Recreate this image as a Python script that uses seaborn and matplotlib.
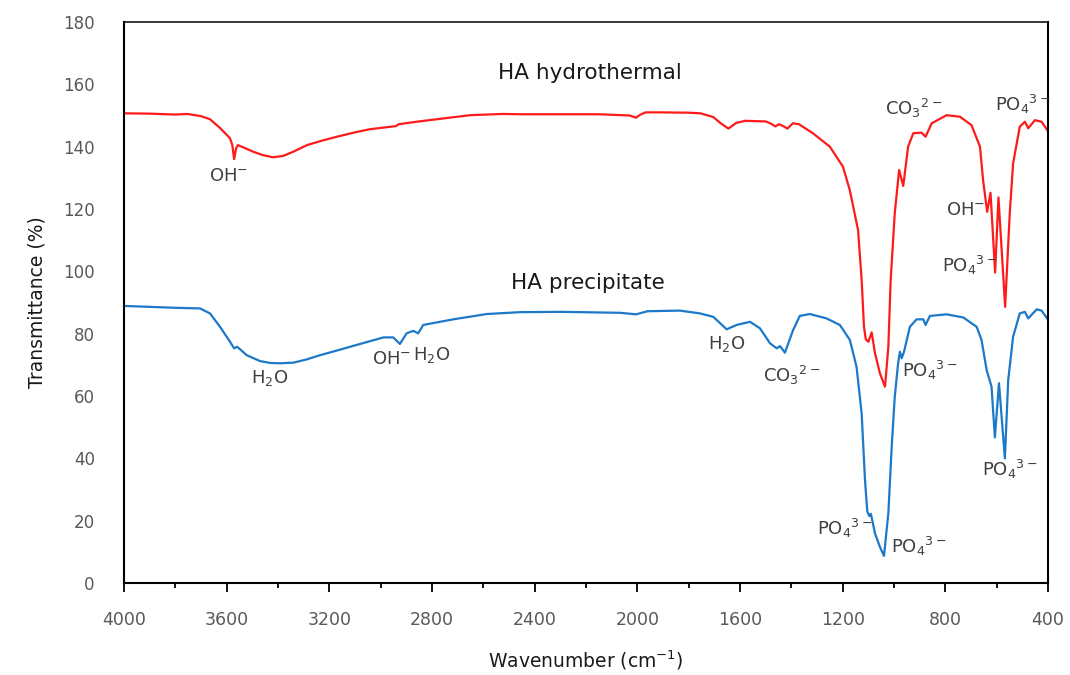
import numpy as np
import pandas as pd
import matplotlib
matplotlib.use("Agg")
import matplotlib.pyplot as plt
from matplotlib.ticker import MultipleLocator
import seaborn as sns

# ---------------- data ----------------
series_names = ["HA hydrothermal", "HA precipitate"]

hydro_wn = [4000, 3900, 3800, 3754, 3700, 3665, 3626, 3587, 3578, 3571, 3563, 3556,
            3530, 3497, 3460, 3420, 3381, 3340, 3287, 3230, 3170, 3100, 3042, 2940, 2930,
            2860, 2781, 2652, 2524, 2457,
            2300, 2150, 2030, 2005, 1990, 1968, 1900, 1800, 1754, 1704, 1675, 1645,
            1615, 1580, 1500, 1480, 1462, 1448, 1434, 1415, 1394, 1370, 1316, 1250,
            1199, 1172, 1140, 1126, 1117, 1110, 1100, 1087, 1074, 1055, 1035, 1022,
            1013, 997, 980, 964, 945, 925, 893, 877, 853, 795, 743, 698, 665, 653,
            637, 624, 606, 593, 567, 549, 536, 510, 490, 477, 451, 425, 400]
hydro_t = [150.7, 150.6, 150.3, 150.5, 149.8, 148.8, 146.0, 142.7, 140.5, 136.0, 139.5, 140.5,
           139.6, 138.4, 137.3, 136.6, 137.0, 138.4, 140.5, 141.9, 143.2, 144.6, 145.6, 146.6, 147.2,
           148.0, 148.8, 150.1, 150.5, 150.4,
           150.4, 150.4, 150.0, 149.3, 150.2, 151.0, 151.0, 150.9, 150.7, 149.5, 147.5, 145.8,
           147.6, 148.3, 148.1, 147.4, 146.5, 147.2, 146.7, 145.8, 147.5, 147.2, 144.3, 140.0,
           133.6, 126.0, 113.2, 97.2, 82.2, 78.2, 77.4, 80.4, 73.7, 67.3, 63.0, 75.8,
           97.2, 118.7, 132.5, 127.4, 140.0, 144.3, 144.5, 143.2, 147.5, 150.1, 149.6, 146.9, 140.0, 129.3,
           119.1, 125.2, 99.6, 123.7, 88.6, 118.6, 134.6, 146.4, 148.0, 145.9, 148.5, 148.0, 145.0]

precip_wn = [4000, 3900, 3800, 3704, 3665, 3626, 3587, 3571, 3559, 3522, 3470, 3430, 3392,
             3340, 3290, 3236, 3170, 3106, 2989, 2951, 2925, 2899, 2873, 2854, 2834, 2717, 2587,
             2457, 2300, 2068, 2005, 1960, 1834, 1756, 1704, 1652, 1613, 1561, 1522,
             1483, 1457, 1444, 1425, 1393, 1367, 1328, 1263, 1211, 1172, 1146, 1126,
             1113, 1104, 1096, 1090, 1074, 1055, 1039, 1022, 1009, 997, 984, 977, 970,
             961, 938, 912, 886, 877, 860, 795, 730, 678, 659, 639, 620, 607, 591,
             568, 555, 536, 510, 490, 477, 444, 425, 400]
precip_t = [88.9, 88.6, 88.3, 88.1, 86.5, 82.2, 77.4, 75.3, 75.8, 73.1, 71.2, 70.6, 70.5,
            70.7, 71.7, 73.1, 74.6, 76.1, 78.8, 78.8, 76.7, 80.1, 80.9, 80.1, 82.8, 84.6, 86.3,
            86.9, 87.0, 86.7, 86.2, 87.2, 87.4, 86.5, 85.4, 81.4, 82.8, 83.8, 81.7,
            76.9, 75.3, 76.0, 73.9, 81.2, 85.7, 86.3, 84.9, 82.8, 78.0, 69.4, 54.4,
            33.0, 22.9, 21.5, 22.2, 15.9, 11.6, 8.7, 22.4, 43.7, 59.8, 70.5, 74.2, 72.1,
            74.2, 82.2, 84.6, 84.6, 82.8, 85.7, 86.2, 85.2, 82.2, 78.0, 68.3, 63.0, 46.7, 64.1,
            40.0, 65.1, 79.0, 86.5, 87.0, 84.9, 87.8, 87.4, 84.5]

x_ticks = [4000, 3600, 3200, 2800, 2400, 2000, 1600, 1200, 800, 400]
y_ticks = [0, 20, 40, 60, 80, 100, 120, 140, 160, 180]

# band annotations: text, wavenumber, transmittance
ann_text = ["OH$^{-}$", "H$_2$O", "OH$^{-}$", "H$_2$O", "H$_2$O", "CO$_3$$^{2-}$",
            "PO$_4$$^{3-}$", "PO$_4$$^{3-}$", "PO$_4$$^{3-}$", "PO$_4$$^{3-}$",
            "CO$_3$$^{2-}$", "PO$_4$$^{3-}$", "OH$^{-}$", "PO$_4$$^{3-}$"]
ann_x = [3591, 3431, 2956, 2800, 1651, 1398, 860, 1191, 903, 548, 922, 498, 720, 704]
ann_y = [130.6, 65.8, 71.9, 73.1, 76.7, 66.7, 68.1, 17.6, 11.6, 36.3, 152.3, 153.7, 119.7, 102.0]

series_label_x = [2185, 2192]
series_label_y = [163.5, 96.2]

# ---------------- build table ----------------
df = pd.concat([
    pd.DataFrame({"wn": hydro_wn, "T": hydro_t, "sample": series_names[0]}),
    pd.DataFrame({"wn": precip_wn, "T": precip_t, "sample": series_names[1]}),
], ignore_index=True)

sns.set_theme(style="white")
plt.rcParams["font.family"] = ["DejaVu Sans"]
plt.rcParams["mathtext.fontset"] = "dejavusans"

fig = plt.figure(figsize=(10.7, 6.75), dpi=100)
ax = fig.add_axes([124 / 1070, 1 - 583 / 675, (1048 - 124) / 1070, (583 - 22) / 675])

palette = {series_names[0]: "#FF1A1A", series_names[1]: "#1C78C8"}
sns.lineplot(data=df, x="wn", y="T", hue="sample", palette=palette,
             estimator=None, linewidth=1.6, legend=False, ax=ax)

ax.set_xlim(4000, 400)
ax.set_ylim(0, 180)
ax.set_xticks(x_ticks)
ax.set_xticklabels([str(v) for v in x_ticks])
ax.xaxis.set_minor_locator(MultipleLocator(200))
ax.set_yticks(y_ticks)
ax.set_yticklabels([str(v) for v in y_ticks])

ax.tick_params(axis="x", which="major", direction="out", length=6.5, width=1.3,
               color="black", pad=14, labelsize=12.5, labelcolor="#595959", bottom=True)
ax.tick_params(axis="x", which="minor", direction="out", length=3.5, width=1.3,
               color="black", bottom=True)
ax.tick_params(axis="y", which="both", length=0, pad=21, labelsize=12,
               labelcolor="#595959")

for side, sp in ax.spines.items():
    sp.set_visible(True)
    sp.set_color("black")
    sp.set_linewidth(1.5 if side in ("left", "bottom", "right") else 1.1)

ax.grid(False)

ax.set_xlabel("Wavenumber (cm$^{-1}$)", fontsize=13.5, color="#1a1a1a", labelpad=14)
ax.set_ylabel("Transmittance (%)", fontsize=13.5, color="#1a1a1a", labelpad=12)

for name, sx, sy in zip(series_names, series_label_x, series_label_y):
    ax.text(sx, sy, name, fontsize=15.5, color="#1a1a1a", ha="center", va="center")

for t, x, y in zip(ann_text, ann_x, ann_y):
    ax.text(x, y, t, fontsize=13, color="#404040", ha="center", va="center")

fig.savefig("out.png", dpi=100)
